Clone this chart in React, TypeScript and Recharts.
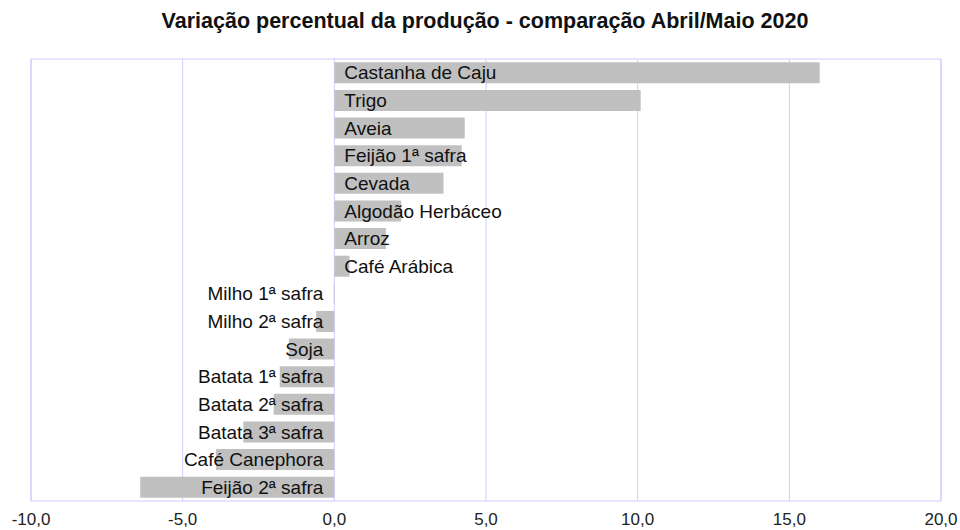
import { Bar, BarChart, CartesianGrid, LabelList, ReferenceArea, XAxis, YAxis } from "recharts";

const crops = [
  "Castanha de Caju",
  "Trigo",
  "Aveia",
  "Feijão 1ª safra",
  "Cevada",
  "Algodão Herbáceo",
  "Arroz",
  "Café Arábica",
  "Milho 1ª safra",
  "Milho 2ª safra",
  "Soja",
  "Batata 1ª safra",
  "Batata 2ª safra",
  "Batata 3ª safra",
  "Café Canephora",
  "Feijão 2ª safra",
];

const variation = [16.0, 10.1, 4.3, 4.2, 3.6, 2.2, 1.7, 0.5, -0.02, -0.6, -1.5, -1.8, -2.0, -3.0, -3.9, -6.4];

const xTicks = [-10, -5, 0, 5, 10, 15, 20];

const title = "Variação percentual da produção - comparação Abril/Maio 2020";

const data = crops.map((name, i) => ({ name, value: variation[i] }));

const font = "'Liberation Sans', Arial, sans-serif";
const gridColor = "#ccccff";

function CropLabel(props: any) {
  const { x, y, width, height, value } = props;
  const v = variation[crops.indexOf(value)] ?? 0;
  const x0 = Number(x);
  const w = Number(width);
  const zero = v >= 0 ? Math.min(x0, x0 + w) : Math.max(x0, x0 + w);
  const cy = Number(y) + Number(height) / 2;
  return (
    <text
      x={v >= 0 ? zero + 10 : zero - 11}
      y={cy}
      dy="0.35em"
      textAnchor={v >= 0 ? "start" : "end"}
      fontSize={19}
      fontFamily={font}
      fill="#111"
    >
      {value}
    </text>
  );
}

export default function App() {
  return (
    <div style={{ position: "absolute", left: 0, top: 0, width: 960, height: 530, background: "#fff", fontFamily: font }}>
      <div
        style={{
          position: "absolute",
          top: 8,
          left: 5,
          width: 960,
          textAlign: "center",
          fontSize: 21.5,
          lineHeight: "26px",
          fontWeight: "bold",
          color: "#111",
        }}
      >
        {title}
      </div>
      <BarChart
        width={960}
        height={530}
        data={data}
        layout="vertical"
        margin={{ top: 59, right: 19, bottom: 0, left: 31 }}
        barCategoryGap="12%"
      >
        <CartesianGrid stroke={gridColor} horizontal={false} />
        <XAxis
          type="number"
          domain={[-10, 20]}
          ticks={xTicks}
          interval={0}
          height={29}
          axisLine={false}
          tickLine={false}
          tickFormatter={(v: number) => v.toFixed(1).replace(".", ",")}
          tick={{ fill: "#222", fontSize: 17, fontFamily: font }}
          tickMargin={6}
        />
        <YAxis type="category" dataKey="name" hide width={0} />
        <ReferenceArea x1={-10} x2={20} fill="none" stroke={gridColor} strokeWidth={1} ifOverflow="visible" />
        <Bar dataKey="value" fill="#c0c0c0" isAnimationActive={false}>
          <LabelList dataKey="name" content={CropLabel} />
        </Bar>
      </BarChart>
    </div>
  );
}
